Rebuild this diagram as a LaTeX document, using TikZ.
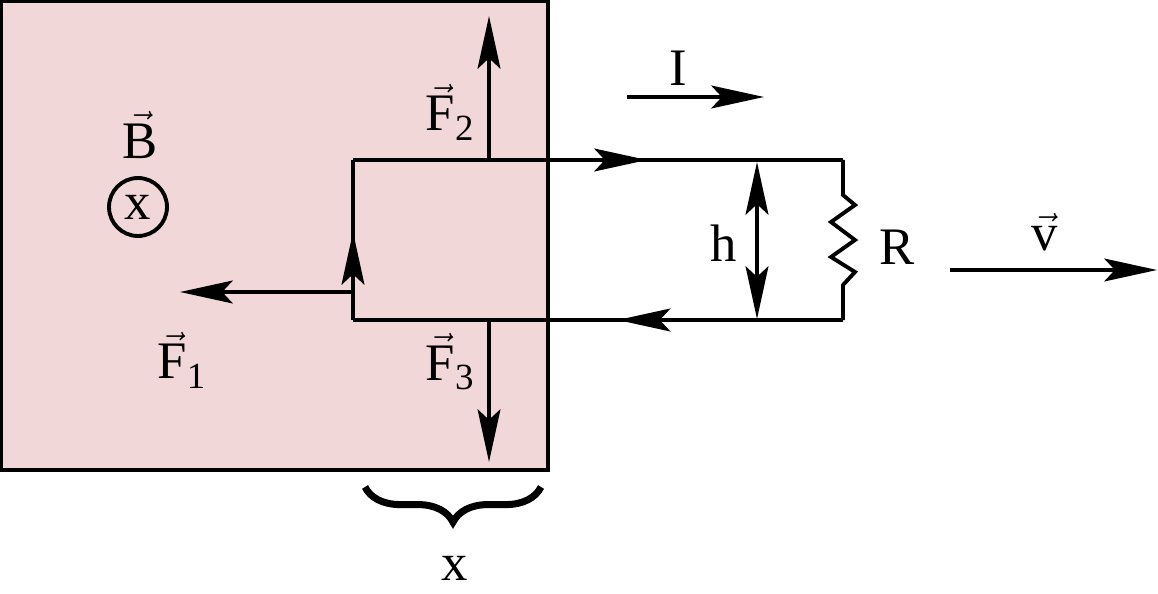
\documentclass[tikz,border=0pt]{standalone}
\usepackage{fontspec}
\setmainfont{Liberation Serif}
\usetikzlibrary{arrows.meta,decorations.markings,decorations.pathreplacing}
\definecolor{fieldpink}{RGB}{242,215,217}
\tikzset{
  tip/.tip={Stealth[length=30pt,width=13pt,inset=6pt]},
  wire/.style={line width=2.2pt},
  force/.style={wire,-tip},
  midarrow/.style={decoration={markings,mark=at position #1 with {\arrow{tip}}},postaction={decorate}},
  lbl/.style={font=\fontsize{30}{34}\selectfont,inner sep=0pt}
}
\begin{document}
\begin{tikzpicture}[x=0.02cm,y=-0.02cm]
\useasboundingbox (0,0) rectangle (1158,594);
% field region
\draw[wire,fill=fieldpink] (1.5,1.5) rectangle (548,470);
% loop corners
\coordinate (tl) at (353,160);
\coordinate (tr) at (843,160);
\coordinate (bl) at (353,320);
\coordinate (br) at (843,320);
\coordinate (ra) at (843,195);
\coordinate (rb) at (843,285);
% loop with current arrows
\draw[wire,midarrow=0.6] (tl) -- (tr);
\draw[wire,midarrow=0.46] (br) -- (bl);
\draw[wire,midarrow=0.55] (bl) -- (tl);
\draw[wire] (tr) -- (ra) -- (855,205) -- (831,222) -- (855,240) -- (831,257) -- (855,272) -- (rb) -- (br);
% forces
\coordinate (f2a) at (489,160);
\coordinate (f2b) at (489,16);
\coordinate (f3a) at (489,320);
\coordinate (f3b) at (489,462);
\coordinate (f1a) at (353,292);
\coordinate (f1b) at (180,292);
\draw[force] (f2a) -- (f2b);
\draw[force] (f3a) -- (f3b);
\draw[force] (f1a) -- (f1b);
% height
\coordinate (ha) at (757,162);
\coordinate (hb) at (757,319);
\draw[wire,tip-tip] (ha) -- (hb);
% current and velocity
\coordinate (ia) at (627,97);
\coordinate (ib) at (764,97);
\draw[force] (ia) -- (ib);
\coordinate (va) at (950,270);
\coordinate (vb) at (1157,270);
\draw[force] (va) -- (vb);
% field symbol
\node[draw,circle,line width=2.2pt,minimum size=33pt,inner sep=0pt,lbl] (bsym) at (138,207) {x};
% brace
\coordinate (xa) at (365,487);
\coordinate (xb) at (541,487);
\draw[line width=4pt,decorate,decoration={brace,mirror,amplitude=20pt}] (xa) -- (xb);
% labels
\node[lbl] (lB) at (140,135) {$\vec{\mathrm{B}}$};
\node[lbl] (lF1) at (182,360) {$\vec{\mathrm{F}}_{\mathrm{1}}$};
\node[lbl] (lF2) at (450,112) {$\vec{\mathrm{F}}_{\mathrm{2}}$};
\node[lbl] (lF3) at (450,362) {$\vec{\mathrm{F}}_{\mathrm{3}}$};
\node[lbl] (lh) at (724,243) {h};
\node[lbl] (lR) at (897,247) {R};
\node[lbl] (lI) at (678,68) {I};
\node[lbl] (lv) at (1045,232) {$\vec{\mathrm{v}}$};
\node[lbl] (lx) at (455,568) {x};
\end{tikzpicture}
\end{document}
